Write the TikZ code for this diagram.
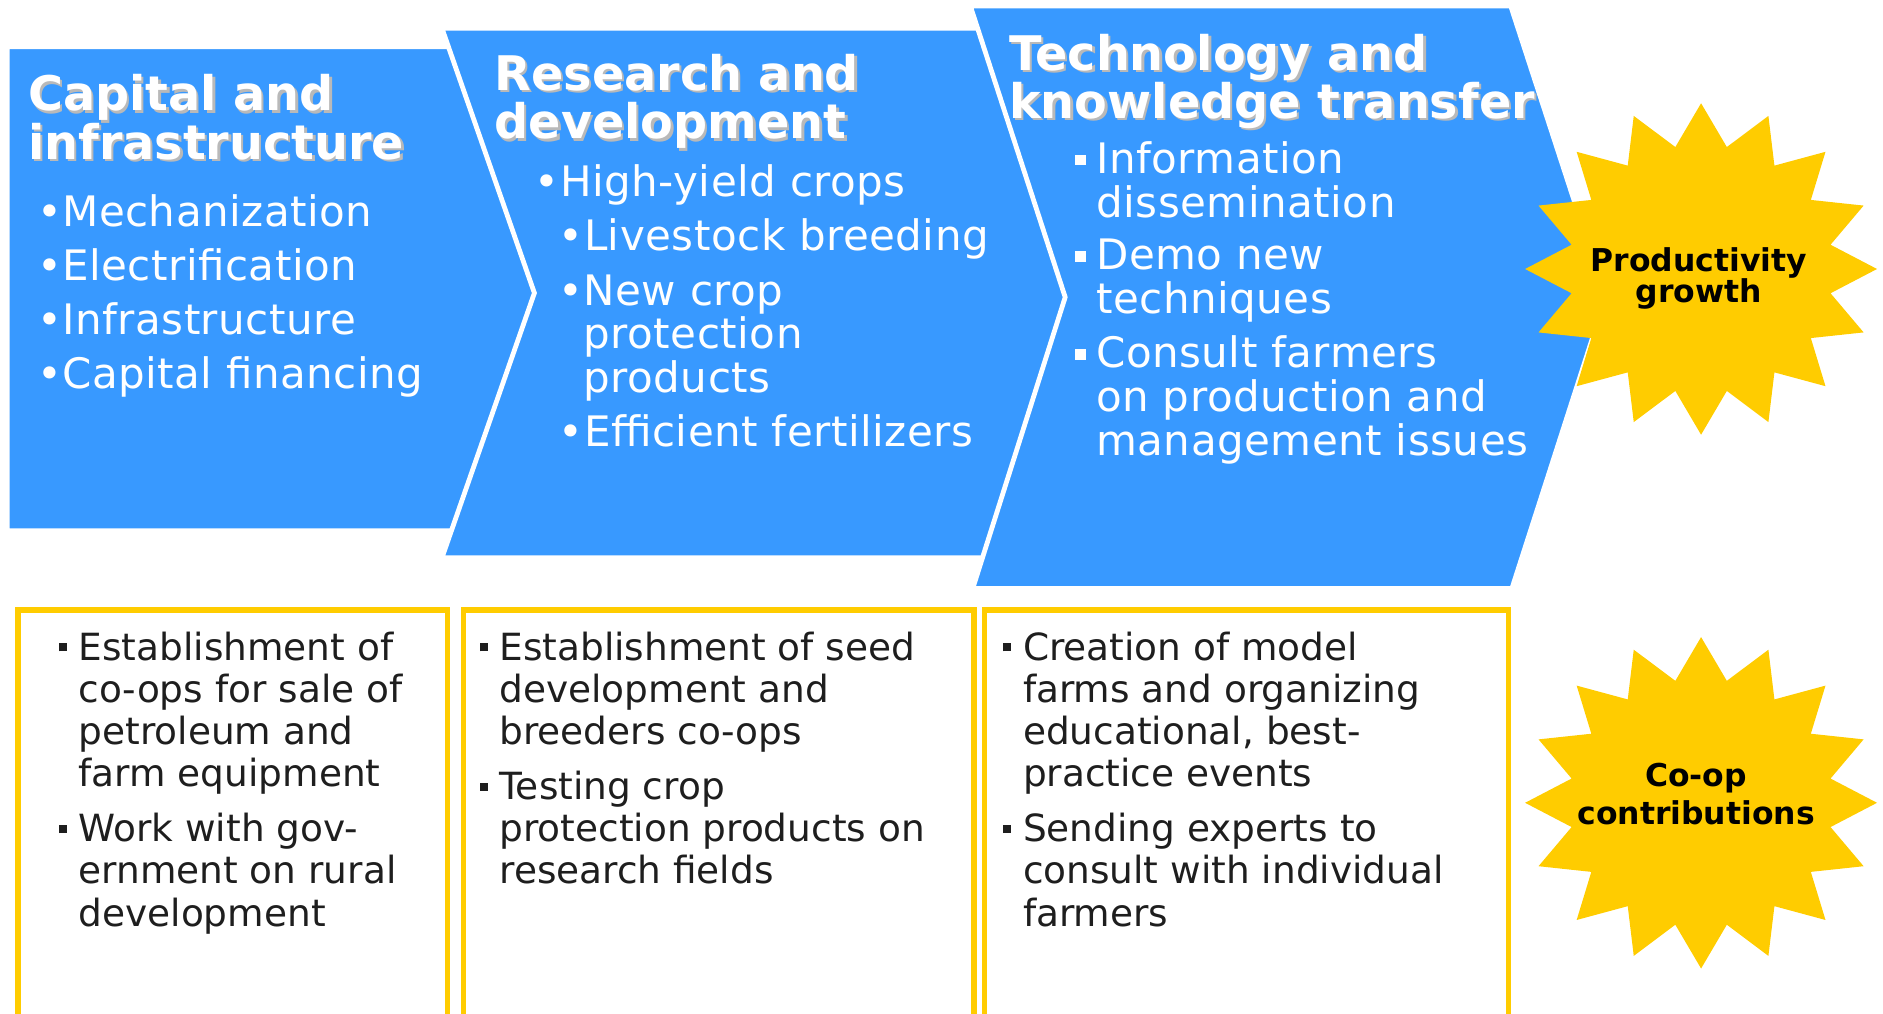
\documentclass[tikz,border=0pt]{standalone}
\usepackage{fontspec}
\setmainfont{DejaVu Sans}
\usepackage{xcolor}
\usepackage{tikz}
\usetikzlibrary{shapes.geometric}
\usetikzlibrary{positioning}

\definecolor{chevblue}{RGB}{56,153,255}
\definecolor{burstyellow}{RGB}{255,204,0}
\definecolor{headshadow}{RGB}{185,185,185}
\definecolor{coopink}{RGB}{30,30,30}

\newcommand{\headfont}{\bfseries\fontsize{22.6pt}{22.9pt}\selectfont}
\newcommand{\bluefont}{\fontsize{19.9pt}{20.8pt}\selectfont\addfontfeature{LetterSpace=1.2}}
\newcommand{\coopfont}{\fontsize{17.75pt}{20pt}\selectfont}
\newcommand{\textlines}[1]{\parbox[t]{12cm}{\lineskiplimit=-20pt\relax #1}}
\newcommand{\centerlines}[1]{\parbox[t]{6cm}{\centering\lineskiplimit=-20pt\relax #1}}
\newcommand{\shadowed}[1]{\makebox[0pt][l]{\hspace{1.1pt}\raisebox{-1.1pt}{\textcolor{headshadow}{#1}}}#1}
\newcommand{\bluesq}{\rule[3.7pt]{5.1pt}{5.1pt}\hspace{4.9pt}}
\newcommand{\inksq}{\rule[4.1pt]{3.8pt}{3.8pt}\hspace{5.6pt}}

\begin{document}
\begin{tikzpicture}[x=0.02cm, y=-0.02cm,
	chevron/.style={fill=chevblue, draw=white, line width=0.08cm},
	coopbox/.style={draw=burstyellow, line width=0.09cm},
	burst/.style={star, star points=16, star point ratio=1.333, fill=burstyellow, minimum size=5.68cm, inner sep=0pt, xscale=1.032, yscale=0.972, transform shape},
	headtext/.style={anchor=base west, inner sep=0pt, text=white, font=\headfont},
	bluetext/.style={anchor=base west, inner sep=0pt, text=white, font=\bluefont},
	cooptext/.style={anchor=base west, inner sep=0pt, text=coopink, font=\coopfont},
	bursttext/.style={anchor=base, inner sep=0pt, text=black}]
			\useasboundingbox (0,0) rectangle (1568,844);
			\clip (0,0) rectangle (1568,844);
			
			%stages
			\draw[chevron] (6,39) -- (381,39) -- (462,240) -- (381,442) -- (6,442) -- cycle;
			\draw[chevron] (368,23.5) -- (818,23.5) -- (898,244) -- (822,464.5) -- (368,464.5) -- (445,244) -- cycle;
			\draw[chevron] (808,5) -- (1258,5) -- (1337,247.5) -- (1259,490) -- (810,490) -- (887,247.5) -- cycle;
			
			%co-op boxes
			\draw[coopbox] (15,508) rectangle (372.5,880);
			\draw[coopbox] (385.8,508) rectangle (811,880);
			\draw[coopbox] (820,508) rectangle (1256,880);
			
			%bursts
			\begin{scope}[shift={(1416.5,224)}]
				\node[burst] (prodburst) at (0,0) {};
			\end{scope}
			\begin{scope}[shift={(1416.5,668.5)}]
				\node[burst] (coopburst) at (0,0) {};
			\end{scope}
			\node[bursttext, font=\bfseries\fontsize{14.9pt}{14.7pt}\selectfont] (prodcaption) at (1414.5,226.2) {\centerlines{Productivity\\growth}};
			\node[bursttext, font=\bfseries\fontsize{14.9pt}{18.2pt}\selectfont] (coopcaption) at (1412.4,655) {\centerlines{Co-op\\contributions}};
			
			%capital and infrastructure
			\node[headtext] (capitalhead) at (23,92.2) {\textlines{\shadowed{Capital and}\\\shadowed{infrastructure}}};
			\node[bluetext] (capitallist) at (30.5,188.7) {\textlines{•Mechanization\\[4.8pt]•Electrification\\[4.8pt]•Infrastructure\\[4.8pt]•Capital financing}};
			
			%research and development
			\node[headtext] (researchhead) at (411.5,75.5) {\textlines{\shadowed{Research and}\\\shadowed{development}}};
			\node[bluetext] (highyield) at (445,163.8) {•High-yield crops};
			\node[bluetext] (livestock) at (465,208.7) {•Livestock breeding};
			\node[bluetext] (newcrop) at (465,254) {•\textlines{New crop\\protection\\products}};
			\node[bluetext] (fertilizer) at (465,372) {•Efficient fertilizers};
			
			%technology and knowledge transfer
			\node[headtext] (techhead) at (840,58.3) {\textlines{\shadowed{Technology and}\\\shadowed{knowledge transfer}}};
			\node[bluetext] (infodiss) at (895,144.3) {\bluesq\textlines{Information\\dissemination}};
			\node[bluetext] (demonew) at (895,224.8) {\bluesq\textlines{Demo new\\techniques}};
			\node[bluetext] (consult) at (895,306.2) {\bluesq\textlines{Consult farmers\\on production and\\management issues}};
			
			%co-op contributions
			\node[cooptext] (coopsale) at (48.6,549.6) {\inksq\textlines{Establishment of\\co-ops for sale of\\petroleum and\\farm equipment}};
			\node[cooptext] (govwork) at (48.6,700.9) {\inksq\textlines{Work with gov-\\ernment on rural\\development}};
			\node[cooptext] (seedcoop) at (399,549.6) {\inksq\textlines{Establishment of seed\\development and\\breeders co-ops}};
			\node[cooptext] (croptest) at (399,665.5) {\inksq\textlines{Testing crop\\protection products on\\research fields}};
			\node[cooptext] (modelfarm) at (835,549.6) {\inksq\textlines{Creation of model\\farms and organizing\\educational, best-\\practice events}};
			\node[cooptext] (experts) at (835,700.9) {\inksq\textlines{Sending experts to\\consult with individual\\farmers}};
			\end{tikzpicture}
\end{document}
